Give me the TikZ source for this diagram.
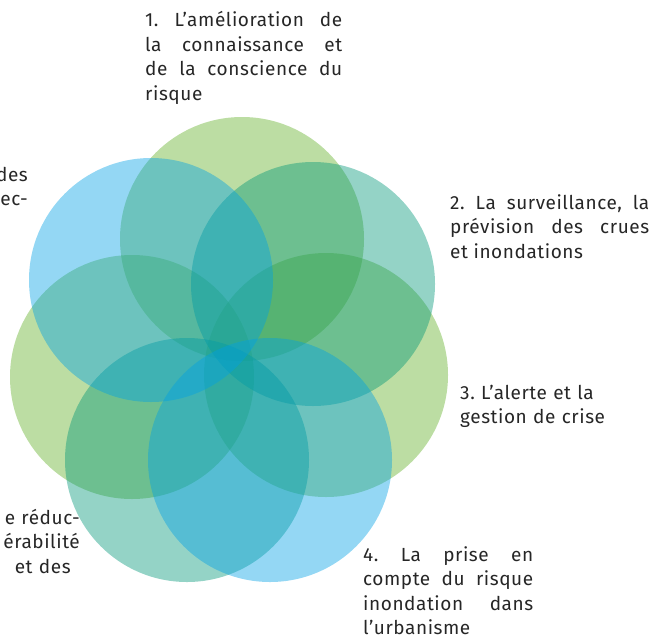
\documentclass[tikz,border=0pt]{standalone}
\usepackage{fontspec}
\setmainfont{Fira Sans}[LetterSpace=3]
\usepackage{tikz}
\frenchspacing

\definecolor{lgreen}{RGB}{95,175,35}
\definecolor{lblue}{RGB}{0,160,228}
\definecolor{lteal}{RGB}{0,150,120}

\begin{document}
\begin{tikzpicture}[x=1pt,y=-1pt,
  disc/.style={shape=circle,minimum size=244pt,inner sep=0pt,fill opacity=0.42},
  txt/.style={inner sep=0pt,text=black!85,font=\fontsize{19}{24.5}\selectfont}]
\useasboundingbox (0,0) rectangle (652,642);
% the seven circles
\node[disc,fill=lgreen] (A) at (242,239) {};
\node[disc,fill=lgreen] (C) at (326,375) {};
\node[disc,fill=lgreen] (F) at (132,377) {};
\node[disc,fill=lteal] (B) at (313,284) {};
\node[disc,fill=lteal] (E) at (187,460) {};
\node[disc,fill=lblue] (D) at (270,460) {};
\node[disc,fill=lblue] (G) at (151,280) {};
% texts
\node[txt,anchor=base west,text width=197pt,align=justify] (T1) at (145,27)
  {1. L’amélioration de\linebreak la connaissance et\linebreak de la conscience du\linebreak risque};
\node[txt,anchor=base west,text width=199pt,align=justify] (T2) at (450,209)
  {2. La surveillance, la\linebreak prévision des crues\linebreak et inondations};
\node[txt,anchor=base west,text width=170pt,align=left] (T3) at (460,399)
  {3. L’alerte et la\\gestion de crise};
\node[txt,anchor=base west,text width=170pt,align=justify] (T4) at (363,561)
  {4. La prise en\linebreak compte du risque\linebreak inondation dans\linebreak l’urbanisme};
\node[txt,anchor=base east,text width=90pt,align=right] (T5) at (80,524)
  {e réduc-\\érabilité\\\makebox[65pt][s]{et des}};
\node[txt,anchor=base east,text width=40pt,align=right] (T6) at (28,181)
  {des\\ec-};
\end{tikzpicture}
\end{document}
